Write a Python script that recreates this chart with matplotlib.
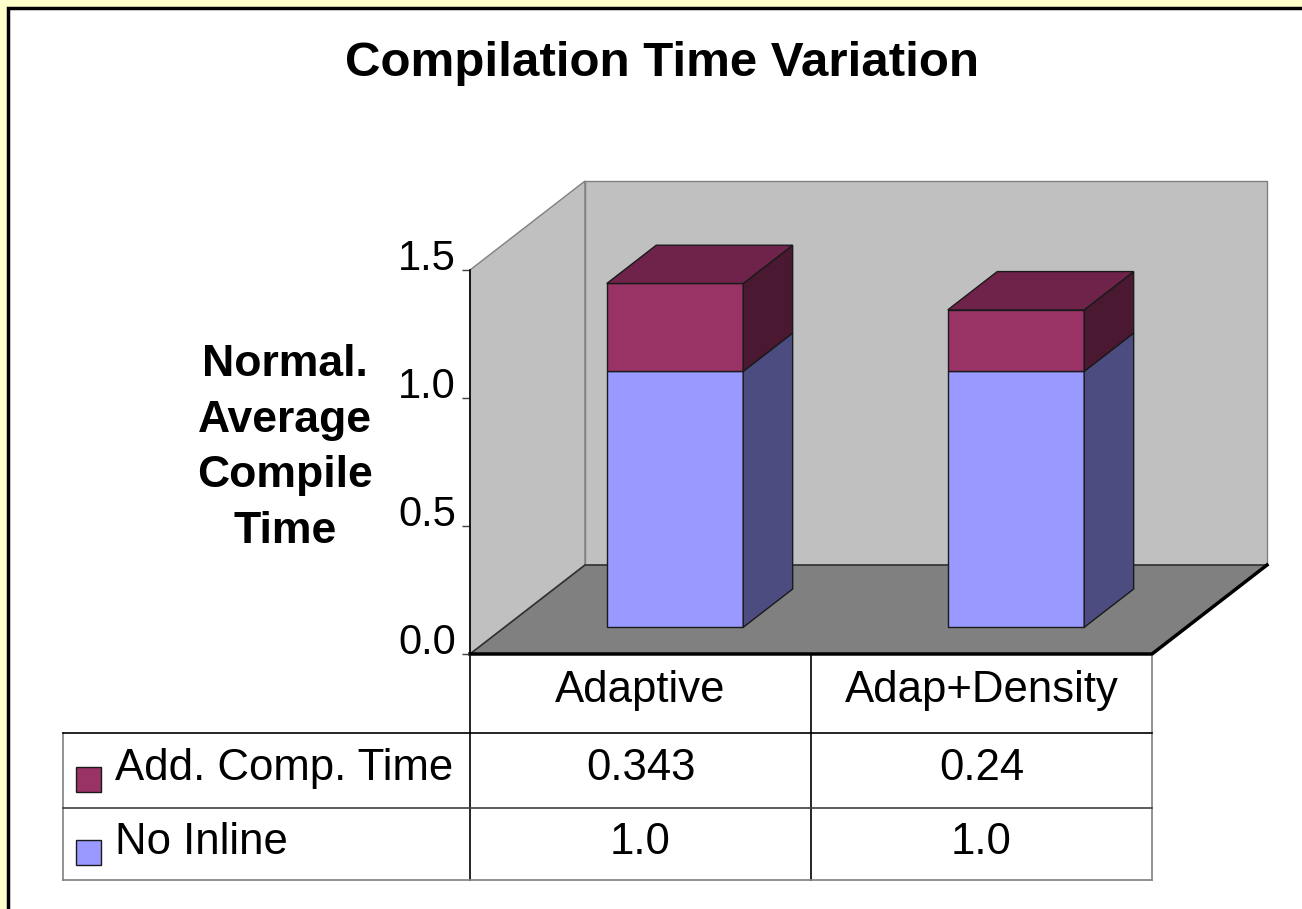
import matplotlib.pyplot as plt
from matplotlib.patches import Polygon, Rectangle

plt.rcParams['font.family'] = ['Liberation Sans', 'DejaVu Sans']

# data
categories = ['Adaptive', 'Adap+Density']
series_names = ['Add. Comp. Time', 'No Inline']
no_inline = [1.0, 1.0]
add_comp = [0.343, 0.24]
add_comp_labels = ['0.343', '0.24']
no_inline_labels = ['1.0', '1.0']
yticks = [0.0, 0.5, 1.0, 1.5]

# colours: front / side / top
blue = ('#9999FF', '#4C4C80', '#7A7ACC')
red = ('#993366', '#4A1830', '#70234A')

W, H = 1302, 909
fig = plt.figure(figsize=(W / 100, H / 100), dpi=100)
fig.patch.set_facecolor('#FFFFCC')

# white slide panel with dark frame
fig.add_artist(Rectangle((8 / W, -0.1), 1.2, 1 - 8 / H + 0.1, transform=fig.transFigure,
                         facecolor='white', edgecolor='black', lw=2.5, zorder=0))

# overlay in pixel coordinates for title, label and data table
ov = fig.add_axes([0, 0, 1, 1])
ov.set_xlim(0, W)
ov.set_ylim(H, 0)
ov.axis('off')
ov.patch.set_alpha(0)

# main 3d-looking chart
x0, x1, y0, y1 = 470, 1152, 654, 270
ax = fig.add_axes([x0 / W, (H - y0) / H, (x1 - x0) / W, (y0 - y1) / H])
ax.set_xlim(0, len(categories))
ax.set_ylim(0, 1.5)
ax.patch.set_alpha(0)
for s in ['top', 'right', 'bottom']:
    ax.spines[s].set_visible(False)
ax.spines['left'].set_linewidth(1.2)
ax.set_xticks([])
ax.set_yticks(yticks)
ax.set_yticklabels([f'{v:.1f}' for v in yticks], fontsize=30)
ax.tick_params(axis='y', length=6, width=1, pad=4, color='#404040')
for lab in ax.get_yticklabels():
    lab.set_va('baseline')

n = len(categories)
ymax = 1.5
dx, dy = 115 / 341, 89 / 256

# side wall, back wall, floor
ax.add_patch(Polygon([(0, 0), (0, ymax), (dx, ymax + dy), (dx, dy)], closed=True,
                     facecolor='#C0C0C0', edgecolor='#808080', lw=1, clip_on=False, zorder=0.5))
ax.add_patch(Polygon([(dx, dy), (dx, ymax + dy), (n + dx, ymax + dy), (n + dx, dy)], closed=True,
                     facecolor='#C0C0C0', edgecolor='#808080', lw=1, clip_on=False, zorder=0.5))
ax.add_patch(Polygon([(0, 0), (dx, dy), (n + dx, dy), (n, 0)], closed=True,
                     facecolor='#808080', edgecolor='#303030', lw=1.2, clip_on=False, zorder=0.6))
ax.plot([0, n, n + dx], [0, 0, dy], color='black', lw=2.5, clip_on=False, zorder=0.7)

bw = 0.4
f0, fd = 0.3, 0.43


def box(i, base, h, cols, top=True):
    c = i + 0.5
    xl = c - bw / 2 + f0 * dx
    xr = xl + bw
    yb = base + f0 * dy
    yt = yb + h
    ex, ey = fd * dx, fd * dy
    ax.add_patch(Polygon([(xl, yb), (xr, yb), (xr, yt), (xl, yt)], closed=True,
                         facecolor=cols[0], edgecolor='#1a1a1a', lw=1, clip_on=False, zorder=1))
    ax.add_patch(Polygon([(xr, yb), (xr + ex, yb + ey), (xr + ex, yt + ey), (xr, yt)], closed=True,
                         facecolor=cols[1], edgecolor='#1a1a1a', lw=1, clip_on=False, zorder=1))
    if top:
        ax.add_patch(Polygon([(xl, yt), (xr, yt), (xr + ex, yt + ey), (xl + ex, yt + ey)], closed=True,
                             facecolor=cols[2], edgecolor='#1a1a1a', lw=1, clip_on=False, zorder=1))


for i in range(n):
    box(i, 0, no_inline[i], blue, top=False)
    box(i, no_inline[i], add_comp[i], red)

# title and axis label
ov.text(662, 64, 'Compilation Time Variation', fontsize=35.5, fontweight='bold',
        ha='center', va='center')
ov.text(285, 448, 'Normal.\nAverage\nCompile\nTime', fontsize=32, fontweight='bold',
        ha='center', va='center', linespacing=1.45)

# data table under the chart
col_w = (x1 - x0) / n
tl, r0, r1, r2, r3 = 63, 654, 733, 808, 880
for k in range(n + 1):
    xx = x0 + k * col_w
    ov.plot([xx, xx], [r0, r3], color='black' if k < n else '#808080', lw=1.2)
ov.plot([tl, tl], [r1, r3], color='#808080', lw=1.2)
ov.plot([tl, x1], [r1, r1], color='black', lw=1.2)
ov.plot([tl, x1], [r2, r2], color='#404040', lw=1.2)
ov.plot([tl, x1], [r3, r3], color='#808080', lw=1.2)

for k, cat in enumerate(categories):
    cx = x0 + (k + 0.5) * col_w
    ov.text(cx, (r0 + r1) / 2 - 3, cat, fontsize=31.5, ha='center', va='center')
    ov.text(cx, (r1 + r2) / 2 - 2, add_comp_labels[k], fontsize=31.5, ha='center', va='center')
    ov.text(cx, (r2 + r3) / 2 - 2, no_inline_labels[k], fontsize=31.5, ha='center', va='center')

for (ry0, ry1), name, col in [((r1, r2), series_names[0], red[0]), ((r2, r3), series_names[1], blue[0])]:
    cy = (ry0 + ry1) / 2
    ov.add_patch(Rectangle((76, cy - 4), 25, 25, facecolor=col, edgecolor='#1a1a1a', lw=1))
    ov.text(115, cy - 2, name, fontsize=31.5, ha='left', va='center')

fig.savefig('out.png', dpi=100, facecolor=fig.get_facecolor())
